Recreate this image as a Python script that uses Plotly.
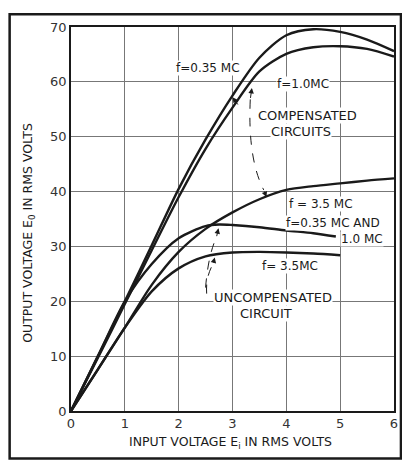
import plotly.graph_objects as go

# input voltage (rms volts) and output voltage (rms volts)
x_comp = [0, 0.5, 1, 1.5, 2, 2.5, 3, 3.5, 4, 4.5, 5, 5.5, 6]
y_comp_035 = [0, 10, 20, 30.2, 40.5, 49.5, 57.5, 64.4, 68.5, 69.6, 69.1, 67.7, 65.6]
y_comp_10 = [0, 9.7, 19.5, 29.3, 39, 47.8, 55.3, 61.9, 65.1, 66.3, 66.5, 66, 64.6]
y_comp_35 = [0, 7.6, 15.2, 23, 29, 33.2, 36.2, 38.6, 40.3, 41, 41.5, 42, 42.4]

x_unc_low = [0, 0.5, 1, 1.5, 2, 2.5, 2.75, 3, 3.5, 4, 4.5, 4.92]
y_unc_low = [0, 10, 20, 26.8, 31.5, 33.7, 34, 33.9, 33.5, 32.9, 32.4, 31.8]
x_unc_35 = [0, 0.5, 1, 1.5, 2, 2.5, 3, 3.5, 4, 4.5, 5]
y_unc_35 = [0, 7.6, 15.2, 21.8, 26, 28.2, 28.9, 29, 28.9, 28.7, 28.4]

x_ticks = [0, 1, 2, 3, 4, 5, 6]
y_ticks = [0, 10, 20, 30, 40, 50, 60, 70]

FONT = 'DejaVu Sans'
INK = '#1a1a1a'

fig = go.Figure()

for xs, ys in [(x_comp, y_comp_035), (x_comp, y_comp_10), (x_comp, y_comp_35),
               (x_unc_low, y_unc_low), (x_unc_35, y_unc_35)]:
    fig.add_trace(go.Scatter(
        x=xs,
        y=ys,
        mode='lines',
        line=dict(color=INK, width=2.4, shape='spline', smoothing=0.8),
        showlegend=False,
        hoverinfo='skip'
    ))

labels = [
    ('f=0.35 MC', 2.54, 62.6, 12),
    ('f=1.0MC', 4.31, 59.7, 12),
    ('COMPENSATED', 4.40, 53.9, 13),
    ('CIRCUITS', 4.27, 51.0, 13),
    ('f = 3.5 MC', 4.64, 37.8, 12),
    ('f=0.35 MC AND', 4.86, 34.2, 12),
    ('1.0 MC', 5.40, 31.3, 12),
    ('f= 3.5MC', 4.06, 26.4, 12),
    ('UNCOMPENSATED', 3.75, 20.6, 13),
    ('CIRCUIT', 3.63, 17.7, 13),
]
for txt, lx, ly, sz in labels:
    fig.add_annotation(x=lx, y=ly, text=txt, showarrow=False,
                       font=dict(family=FONT, size=sz, color=INK),
                       bgcolor='white', borderpad=0)

# dashed leader lines
dashed = [
    'M 3.33,56.8 Q 3.28,46 3.58,40.3',
    'M 2.52,21.4 Q 2.50,24.5 2.64,26.8',
    'M 2.50,22.5 Q 2.55,28.5 2.70,31.6',
]
for p in dashed:
    fig.add_shape(type='path', path=p, xref='x', yref='y',
                  line=dict(color=INK, width=1, dash='dash'))

# arrow heads
arrows = [
    (3.63, 39.0, 3.58, 40.3),
    (3.36, 58.9, 3.33, 56.8),
    (3.00, 57.2, 3.12, 55.6),
    (2.67, 28.0, 2.64, 26.8),
    (2.74, 33.3, 2.70, 31.6),
]
for hx, hy, tx, ty in arrows:
    fig.add_annotation(x=hx, y=hy, ax=tx, ay=ty, xref='x', yref='y',
                       axref='x', ayref='y', text='', showarrow=True,
                       arrowhead=2, arrowsize=1.1, arrowwidth=1,
                       arrowcolor=INK)

# axis titles
fig.add_annotation(x=0.495, y=-0.082, xref='paper', yref='paper',
                   xanchor='center', yanchor='middle',
                   text='INPUT VOLTAGE E<sub>i</sub> IN RMS VOLTS', showarrow=False,
                   font=dict(family=FONT, size=12.5, color=INK))
fig.add_annotation(x=-0.132, y=0.465, xref='paper', yref='paper',
                   xanchor='center', yanchor='middle', textangle=-90,
                   text='OUTPUT VOLTAGE E<sub>0</sub> IN RMS VOLTS', showarrow=False,
                   font=dict(family=FONT, size=12.5, color=INK))

# outer frame
fig.add_shape(type='rect', xref='paper', yref='paper',
              x0=-0.190, x1=1.0215, y0=-0.1234, y1=1.0334,
              line=dict(color=INK, width=2.5))

fig.update_xaxes(
    range=[0, 6],
    tickvals=x_ticks,
    showgrid=True, gridcolor='#777', gridwidth=1,
    zeroline=False,
    showline=True, linecolor=INK, linewidth=1.5, mirror=True,
    ticks='', tickfont=dict(family=FONT, size=13, color='#333')
)
fig.update_yaxes(
    range=[0, 70],
    tickvals=y_ticks,
    showgrid=True, gridcolor='#777', gridwidth=1,
    zeroline=False,
    showline=True, linecolor=INK, linewidth=1.5, mirror=True,
    ticks='', tickfont=dict(family=FONT, size=13, color='#333')
)

fig.update_layout(
    width=402,
    height=454,
    margin=dict(l=63, r=13, t=14, b=51),
    paper_bgcolor='white',
    plot_bgcolor='white',
    showlegend=False
)

fig.write_html('out.html')
